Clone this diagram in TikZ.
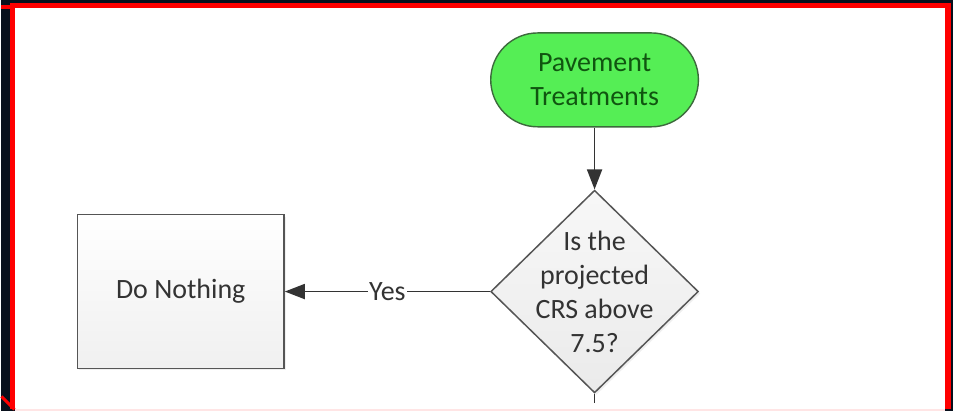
\documentclass[tikz,border=0pt]{standalone}
\usepackage{fontspec}
\setmainfont{Carlito}
\usetikzlibrary{shapes.geometric,arrows.meta,shadows}
\definecolor{frame}{HTML}{08101C}
\definecolor{redline}{HTML}{FF0000}
\definecolor{termfill}{HTML}{55EE55}
\definecolor{termtext}{HTML}{105510}
\definecolor{termedge}{HTML}{3C6A3C}
\definecolor{ink}{HTML}{333333}
\definecolor{edge}{HTML}{555555}
\begin{document}
\begin{tikzpicture}[x=1pt,y=-1pt,
  every node/.style={font=\fontsize{28}{34}\selectfont, text=ink},
  terminator/.style={rectangle, rounded corners=47pt, minimum width=208pt, minimum height=94pt,
    fill=termfill, draw=termedge, line width=1.4pt, align=center, text=termtext, inner sep=0pt},
  decision/.style={diamond, minimum width=208pt, minimum height=203pt, inner sep=0pt,
    top color=gray!6, bottom color=gray!16, draw=edge, line width=1.5pt,
    drop shadow={opacity=0.12, shadow xshift=2pt, shadow yshift=-2pt}},
  process/.style={rectangle, minimum width=207pt, minimum height=154pt, inner sep=0pt,
    top color=white, bottom color=gray!12, draw=edge, line width=1.5pt,
    drop shadow={opacity=0.12, shadow xshift=2pt, shadow yshift=-2pt}},
  arrow/.style={draw=ink, line width=1.8pt, -{Triangle[length=20pt,width=15pt]}},
  plain/.style={draw=ink, line width=1.8pt},
  edgelabel/.style={fill=white, inner sep=1pt}]
  % frame and page
  \fill[frame] (0,0) rectangle (953,412);
  \fill[redline] (9,3) rectangle (951,410);
  \fill[white] (14,8) rectangle (945,410);
  \fill[red!10] (14,410) rectangle (945,412);
  \fill[redline] (0,5) rectangle (9,9);
  \draw[redline, line width=3pt] (0,397) -- (13,410);
  % flowchart
  \node[terminator] (start) at (594,80) {Pavement\\Treatments};
  \node[decision, label={[align=center, text=ink]center:Is the\\projected\\CRS above\\7.5?}] (dec) at (594,292) {};
  \node[process] (none) at (179.5,292) {Do Nothing};
  \coordinate (down) at (594,404);
  \draw[arrow] (start) -- (dec);
  \draw[arrow] (dec) -- node[edgelabel] (yes) {Yes} (none);
  \draw[plain] (dec.south) -- (down);
\end{tikzpicture}
\end{document}
